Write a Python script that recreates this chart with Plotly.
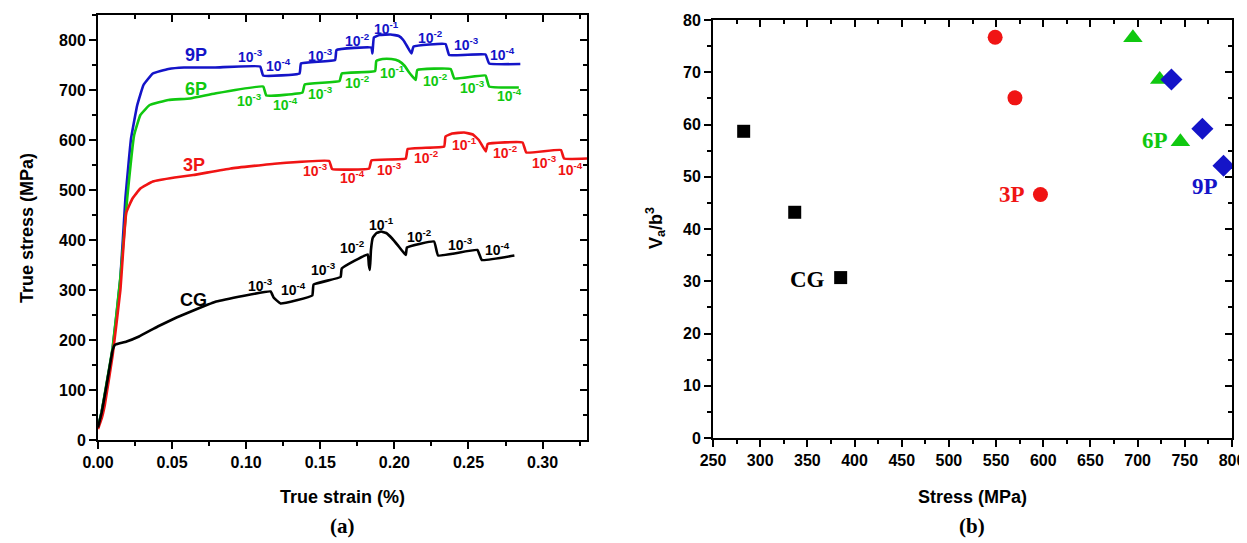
import plotly.graph_objects as go

# page body has an 8px default margin -> offset the figure so it lines up with the window
W, H = 1247, 543
OFF = 8
FW, FH = W - OFF, H - OFF

# ---------------- Panel (a) data: true stress-strain curves ----------------
p9_strain = [0, 0.0025, 0.0057, 0.0099, 0.0151, 0.0185, 0.0223, 0.0265, 0.0307, 0.037, 0.0475, 0.058, 0.079,
             0.1094, 0.1115, 0.136, 0.137, 0.160, 0.161, 0.1845, 0.1852, 0.1862, 0.190, 0.1975, 0.203, 0.206,
             0.2085, 0.2115, 0.213, 0.2345, 0.237, 0.2615, 0.264, 0.285]
p9_stress = [25, 57, 110, 183, 323, 483, 603, 670, 710, 733, 742, 745, 745,
             747, 729, 733, 753, 760, 780, 785, 773, 805, 810, 811, 808, 800,
             788, 773, 787, 792, 770, 771, 753, 752]

p6_strain = [0, 0.0025, 0.0057, 0.0099, 0.0151, 0.0197, 0.0244, 0.0286, 0.0349, 0.0475, 0.0622, 0.079,
             0.1115, 0.1136, 0.138, 0.1395, 0.163, 0.1645, 0.187, 0.1878, 0.192, 0.198, 0.203, 0.207, 0.210,
             0.2144, 0.2155, 0.238, 0.2405, 0.2615, 0.264, 0.284]
p6_stress = [25, 57, 112, 185, 325, 483, 610, 650, 670, 680, 683, 693,
             707, 689, 695, 711, 718, 733, 738, 758, 762, 762, 758, 748, 735,
             720, 740, 742, 723, 729, 707, 705]

p3_strain = [0, 0.0025, 0.0046, 0.0099, 0.0151, 0.0191, 0.0233, 0.0286, 0.037, 0.0517, 0.0643, 0.0895,
             0.121, 0.156, 0.158, 0.183, 0.1845, 0.2077, 0.209, 0.2336, 0.2345, 0.239, 0.247, 0.253, 0.257,
             0.2617, 0.263, 0.2865, 0.289, 0.3124, 0.3145, 0.330]
p3_stress = [22, 43, 70, 170, 300, 455, 483, 503, 517, 525, 530, 543,
             553, 558, 542, 543, 559, 563, 582, 587, 607, 613, 615, 611, 600,
             577, 592, 595, 575, 580, 563, 563]

cg_strain = [0, 0.0025, 0.0057, 0.0099, 0.0113, 0.0141, 0.0193, 0.0277, 0.0403, 0.053, 0.0676, 0.0798,
             0.1165, 0.1185, 0.1232, 0.1446, 0.1455, 0.1637, 0.1645, 0.182, 0.1828, 0.1835, 0.1842, 0.1855,
             0.188, 0.191, 0.1945, 0.1985, 0.203, 0.2077, 0.2085, 0.2268, 0.2295, 0.256, 0.259, 0.281]
cg_stress = [25, 55, 108, 180, 190, 193, 197, 207, 227, 245, 263, 277,
             297, 285, 273, 289, 311, 326, 343, 371, 350, 340, 380, 405,
             414, 417, 414, 403, 387, 370, 385, 397, 369, 380, 360, 369]

# curve name labels (strain, stress)
name_labels = ["9P", "6P", "3P", "CG"]
name_x = [0.066, 0.066, 0.0646, 0.0647]
name_y = [770, 703, 550, 280]

# strain-rate labels: exponents of 10 and positions
p9_rate_exp = ["-3", "-4", "-3", "-2", "-1", "-2", "-3", "-4"]
p9_rate_x = [0.103, 0.122, 0.150, 0.175, 0.195, 0.2245, 0.249, 0.273]
p9_rate_y = [768, 750, 770, 800, 825, 807, 793, 773]

p6_rate_exp = ["-3", "-4", "-3", "-2", "-1", "-2", "-3", "-4"]
p6_rate_x = [0.102, 0.1266, 0.150, 0.175, 0.1987, 0.228, 0.2527, 0.2775]
p6_rate_y = [680, 673, 695, 717, 737, 720, 707, 690]

p3_rate_exp = ["-3", "-4", "-3", "-2", "-1", "-2", "-3", "-4"]
p3_rate_x = [0.147, 0.1716, 0.1964, 0.222, 0.247, 0.275, 0.301, 0.319]
p3_rate_y = [540, 527, 542, 567, 593, 577, 557, 543]

cg_rate_exp = ["-3", "-4", "-3", "-2", "-1", "-2", "-3", "-4"]
cg_rate_x = [0.1097, 0.132, 0.1525, 0.1716, 0.191, 0.2167, 0.2448, 0.2696]
cg_rate_y = [310, 303, 342, 387, 433, 409, 393, 382]

# ---------------- Panel (b) data: activation volume vs stress ----------------
cg_s = [282.5, 336.6, 385.3]
cg_v = [58.7, 43.2, 30.7]
p3_s = [549, 570, 597]
p3_v = [76.7, 65.1, 46.6]
p6_s = [695, 723.4, 745.3]
p6_v = [76.6, 68.6, 56.7]
p9_s = [735.8, 768.6, 791]
p9_v = [68.6, 59.2, 52.1]

b_labels = ["CG", "3P", "6P", "9P"]
b_label_x = [350, 567, 718, 771]
b_label_y = [30.4, 46.6, 57.0, 48.1]

BLUE = "#1414c8"
GREEN = "#10c810"
RED = "#f01414"
BLACK = "#000000"
colors = [BLUE, GREEN, RED, BLACK]

SANS = "Liberation Sans, Arial, sans-serif"
SERIF = "Liberation Serif, Times New Roman, serif"

fig = go.Figure()

curves = [(p9_strain, p9_stress), (p6_strain, p6_stress), (p3_strain, p3_stress), (cg_strain, cg_stress)]
for (xs, ys), c in zip(curves, colors):
    fig.add_trace(go.Scatter(x=xs, y=ys, mode="lines", line=dict(color=c, width=2.6, shape="spline", smoothing=0.3),
                             xaxis="x", yaxis="y", showlegend=False, hoverinfo="skip"))

markers = [(cg_s, cg_v, BLACK, "square", 13), (p3_s, p3_v, RED, "circle", 15),
           (p6_s, p6_v, GREEN, "triangle-up", 17), (p9_s, p9_v, BLUE, "diamond", 17)]
for xs, ys, c, sym, sz in markers:
    fig.add_trace(go.Scatter(x=xs, y=ys, mode="markers", marker=dict(color=c, symbol=sym, size=sz, line=dict(width=0)),
                             xaxis="x2", yaxis="y2", showlegend=False, hoverinfo="skip"))

# invisible traces for mirror (inside-tick) axes
fig.add_trace(go.Scatter(x=[None], y=[None], xaxis="x3", yaxis="y3", showlegend=False))
fig.add_trace(go.Scatter(x=[None], y=[None], xaxis="x4", yaxis="y4", showlegend=False))

# layout geometry (page pixels)
aL, aR, aT, aB = 98, 587, 15, 440
bL, bR, bT, bB = 713, 1232, 20, 438
def fx(px): return (px - OFF) / FW
def fy(py): return 1 - (py - OFF) / FH

tickfont = dict(family=SANS, size=16, color="black", weight="bold")
common = dict(showline=True, linewidth=2, linecolor="black", mirror=True, showgrid=False, zeroline=False,
              ticks="outside", ticklen=7, tickwidth=2, tickcolor="black", tickfont=tickfont, automargin=False)

layout = dict(
    width=FW, height=FH, margin=dict(l=0, r=0, t=0, b=0, pad=0, autoexpand=False),
    paper_bgcolor="white", plot_bgcolor="white", showlegend=False,
    xaxis=dict(domain=[fx(aL), fx(aR)], range=[0, 0.33], dtick=0.05, tick0=0, tickformat=".2f", anchor="y",
               minor=dict(dtick=0.025, ticks="outside", ticklen=4, tickwidth=2, tickcolor="black"), **common),
    yaxis=dict(domain=[fy(aB), fy(aT)], range=[0, 850], dtick=100, tick0=0, anchor="x",
               minor=dict(dtick=50, ticks="outside", ticklen=4, tickwidth=2, tickcolor="black"), **common),
    xaxis2=dict(domain=[fx(bL), fx(bR)], range=[250, 800], dtick=50, tick0=250, anchor="y2",
                minor=dict(dtick=25, ticks="outside", ticklen=4, tickwidth=2, tickcolor="black"), **common),
    yaxis2=dict(domain=[fy(bB), fy(bT)], range=[0, 80], dtick=10, tick0=0, anchor="x2",
                minor=dict(dtick=5, ticks="outside", ticklen=4, tickwidth=2, tickcolor="black"), **common),
)
inside = dict(showline=False, showgrid=False, zeroline=False, showticklabels=False, ticks="inside",
              ticklen=7, tickwidth=2, tickcolor="black", automargin=False)
layout["xaxis3"] = dict(overlaying="x", side="top", anchor="y3", range=[0, 0.33], dtick=0.05, tick0=0,
                        minor=dict(dtick=0.025, ticks="inside", ticklen=4, tickwidth=2, tickcolor="black"), **inside)
layout["yaxis3"] = dict(overlaying="y", side="right", anchor="x3", range=[0, 850], dtick=100, tick0=0,
                        minor=dict(dtick=50, ticks="inside", ticklen=4, tickwidth=2, tickcolor="black"), **inside)
layout["xaxis4"] = dict(overlaying="x2", side="top", anchor="y4", range=[250, 800], dtick=50, tick0=250,
                        minor=dict(dtick=25, ticks="inside", ticklen=4, tickwidth=2, tickcolor="black"), **inside)
layout["yaxis4"] = dict(overlaying="y2", side="right", anchor="x4", range=[0, 80], dtick=10, tick0=0,
                        minor=dict(dtick=5, ticks="inside", ticklen=4, tickwidth=2, tickcolor="black"), **inside)
fig.update_layout(**layout)

ann = []
# curve names
for t, x, y, c in zip(name_labels, name_x, name_y, colors):
    ann.append(dict(x=x, y=y, xref="x", yref="y", text="<b>%s</b>" % t, showarrow=False,
                    xanchor="center", yanchor="middle", font=dict(family=SANS, size=18, color=c)))
# strain rate labels
rate_sets = [(p9_rate_exp, p9_rate_x, p9_rate_y, BLUE), (p6_rate_exp, p6_rate_x, p6_rate_y, GREEN),
             (p3_rate_exp, p3_rate_x, p3_rate_y, RED), (cg_rate_exp, cg_rate_x, cg_rate_y, BLACK)]
for exps, xs, ys, c in rate_sets:
    for e, x, y in zip(exps, xs, ys):
        ann.append(dict(x=x, y=y, xref="x", yref="y", text="<b>10<sup>%s</sup></b>" % e, showarrow=False,
                        xanchor="center", yanchor="middle", font=dict(family=SANS, size=14, color=c)))
# panel b labels
for t, x, y, c in zip(b_labels, b_label_x, b_label_y, [BLACK, RED, GREEN, BLUE]):
    ann.append(dict(x=x, y=y, xref="x2", yref="y2", text="<b>%s</b>" % t, showarrow=False,
                    xanchor="center", yanchor="middle", font=dict(family=SERIF, size=23, color=c)))

# axis titles & captions
def pann(x, y, text, size, family=SANS, angle=0):
    return dict(x=fx(x), y=fy(y), xref="paper", yref="paper", text=text, showarrow=False,
                xanchor="center", yanchor="middle", textangle=angle,
                font=dict(family=family, size=size, color="black"))

ann += [
    pann(342, 497, "<b>True strain (%)</b>", 18),
    pann(27, 228, "<b>True stress (MPa)</b>", 18, angle=-90),
    pann(972, 497, "<b>Stress (MPa)</b>", 18),
    pann(655, 228, "<b>V<sub>a</sub>/b<sup>3</sup></b>", 18, angle=-90),
    pann(342, 526, "<b>(a)</b>", 21, family=SERIF),
    pann(972, 526, "<b>(b)</b>", 21, family=SERIF),
]
fig.update_layout(annotations=ann)

fig.write_html("out.html")
